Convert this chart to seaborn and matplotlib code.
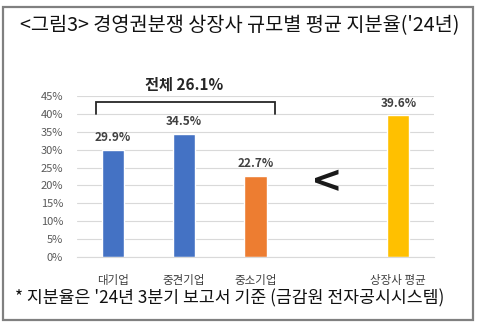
import matplotlib
matplotlib.use("Agg")
import matplotlib.pyplot as plt
from matplotlib.patches import Rectangle
import seaborn as sns
import pandas as pd

# Data
categories = ["대기업", "중견기업", "중소기업", "", "상장사 평균"]
values = [29.9, 34.5, 22.7, 0.0, 39.6]
colors = ["#4472C4", "#4472C4", "#ED7D31", "#FFFFFF", "#FFC000"]
value_labels = ["29.9%", "34.5%", "22.7%", "", "39.6%"]
y_ticks = [0, 5, 10, 15, 20, 25, 30, 35, 40, 45]
total_label = "전체 26.1%"
title = "<그림3> 경영권분쟁 상장사 규모별 평균 지분율('24년)"
footnote = "* 지분율은 '24년 3분기 보고서 기준 (금감원 전자공시시스템)"

sns.set_theme(style="white")
plt.rcParams["font.family"] = ["Noto Sans CJK KR", "DejaVu Sans"]

df = pd.DataFrame({"category": categories, "value": values})

fig = plt.figure(figsize=(4.8, 3.26), dpi=100)
W, H = 480, 326
ax = fig.add_axes([77 / W, 1 - 257 / H, (434 - 77) / W, (257 - 96) / H])

sns.barplot(data=df, x="category", y="value", hue="category",
            palette=colors, legend=False, width=0.31, ax=ax,
            saturation=1)
# hide the spacer slot
ax.patches[3].set_visible(False)

ax.set_ylim(0, 45)
ax.set_xlim(-0.5, 4.5)
ax.set_yticks(y_ticks)
ax.set_yticklabels([f"{t}%" for t in y_ticks], fontsize=8, color="#595959")
ax.set_xticks(range(len(categories)))
ax.set_xticklabels(categories, fontsize=8.3, color="#404040",
                   fontweight="medium")
ax.tick_params(axis="x", length=0, pad=12)
ax.tick_params(axis="y", length=0, pad=10)
ax.set_xlabel("")
ax.set_ylabel("")
ax.yaxis.grid(True, color="#D9D9D9", linewidth=0.8)
ax.set_axisbelow(True)
for s in ["top", "right", "left"]:
    ax.spines[s].set_visible(False)
ax.spines["bottom"].set_color("#D9D9D9")
ax.spines["bottom"].set_linewidth(0.8)

for i, (v, lab) in enumerate(zip(values, value_labels)):
    if lab:
        ax.text(i, v + 1.6, lab, ha="center", va="bottom", fontsize=8.5,
                fontweight="bold", color="#404040")

# bracket over the first three categories
bx0, bx1, by = -0.23, 2.27, 43.3
ax.plot([bx0, bx0, bx1, bx1], [by - 3.2, by, by, by - 3.2],
        color="#262626", linewidth=1.3, clip_on=False,
        solid_joinstyle="miter")
ax.text(1.0, by + 2.6, total_label, ha="center", va="bottom", fontsize=11,
        fontweight="bold", color="#262626")

ax.text(3.0, 21, "<", ha="center", va="center", fontsize=27,
        fontweight="bold", color="#1a1a1a", family="DejaVu Sans")

fig.text(240 / W, 1 - 26 / H, title, ha="center", va="center",
         fontsize=14.2, fontweight="medium", color="#111111")
fig.text(15 / W, 1 - 298 / H, footnote, ha="left", va="center",
         fontsize=12.4, color="#111111")

fig.patches.append(Rectangle((3 / W, 1 - 320 / H), (473 - 3) / W, (320 - 7) / H,
                             transform=fig.transFigure, fill=False,
                             edgecolor="#808080", linewidth=1.6))

fig.savefig("out.png", dpi=100)
